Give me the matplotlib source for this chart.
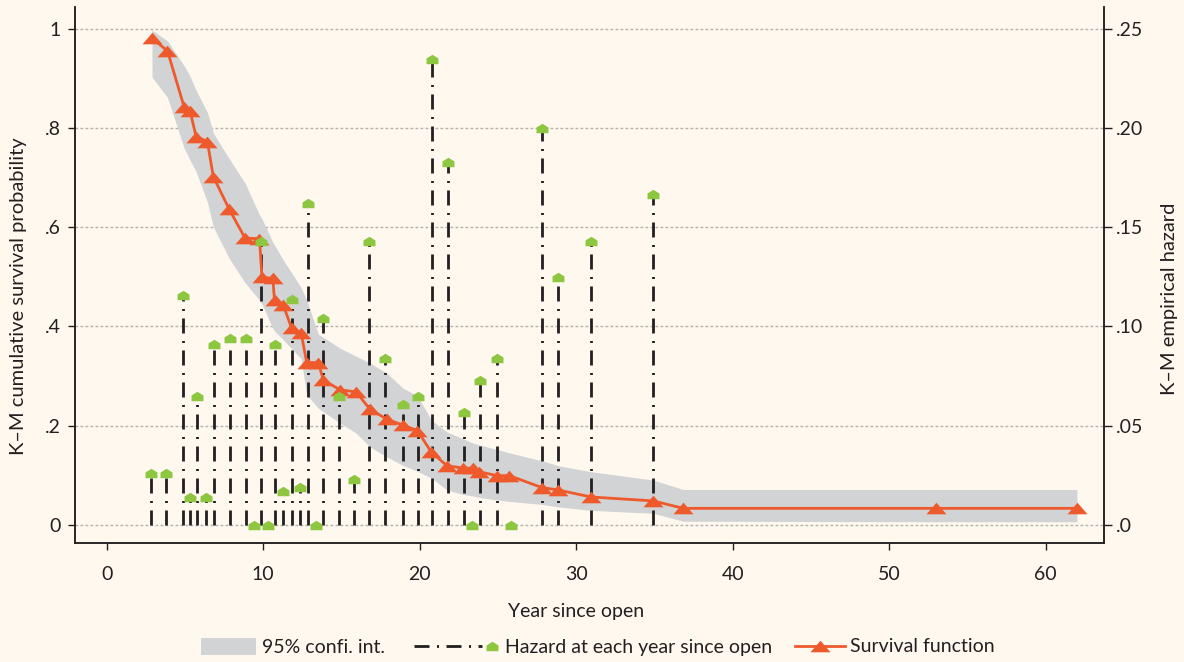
import matplotlib
matplotlib.use("Agg")
import matplotlib.pyplot as plt
import numpy as np
from matplotlib.path import Path
from matplotlib.lines import Line2D
from matplotlib.patches import Patch
from matplotlib.legend_handler import HandlerBase

plt.rcParams['font.family'] = ['Lato', 'DejaVu Sans']

# Kaplan-Meier survival estimate and its 95% confidence band
surv_years = [2.89, 3.88, 4.94, 5.32, 5.71, 6.43, 6.81, 7.83, 8.84, 9.76, 9.92,
              10.61, 10.72, 11.28, 11.82, 12.42, 12.78, 13.52, 13.84, 14.91, 15.93,
              16.82, 17.89, 18.91, 19.85, 20.75, 21.74, 22.79, 23.39, 23.81, 24.92,
              25.73, 27.80, 28.86, 30.93, 34.93, 36.84, 52.99, 62.0]
survival = [0.981, 0.956, 0.843, 0.835, 0.783, 0.773, 0.702, 0.636, 0.578, 0.577, 0.499,
            0.497, 0.453, 0.443, 0.396, 0.387, 0.327, 0.327, 0.292, 0.272, 0.268,
            0.233, 0.213, 0.201, 0.190, 0.146, 0.119, 0.114, 0.114, 0.107, 0.099,
            0.099, 0.075, 0.070, 0.056, 0.048, 0.033, 0.033, 0.033]
ci_upper = [0.998, 0.976, 0.926, 0.905, 0.876, 0.832, 0.790, 0.738, 0.689, 0.625, 0.617,
            0.570, 0.564, 0.534, 0.508, 0.478, 0.453, 0.384, 0.378, 0.356, 0.340,
            0.326, 0.306, 0.276, 0.260, 0.211, 0.187, 0.173, 0.165, 0.161, 0.152,
            0.145, 0.129, 0.119, 0.107, 0.090, 0.071, 0.071, 0.071]
ci_lower = [0.903, 0.862, 0.760, 0.736, 0.712, 0.651, 0.601, 0.537, 0.488, 0.453, 0.445,
            0.396, 0.391, 0.373, 0.355, 0.335, 0.262, 0.235, 0.228, 0.205, 0.185,
            0.157, 0.137, 0.120, 0.108, 0.094, 0.070, 0.061, 0.058, 0.055, 0.050,
            0.047, 0.041, 0.036, 0.029, 0.023, 0.007, 0.006, 0.006]

# Empirical hazard at each year since open
haz_years = [2.83, 3.79, 4.86, 5.32, 5.79, 6.35, 6.88, 7.88, 8.90, 9.41, 9.86, 10.31,
             10.76, 11.28, 11.82, 12.35, 12.84, 13.36, 13.84, 14.82, 15.80, 16.78,
             17.80, 18.91, 19.91, 20.79, 21.83, 22.83, 23.32, 23.83, 24.94, 25.83,
             27.83, 28.86, 30.95, 34.93]
hazard = [0.026, 0.026, 0.116, 0.014, 0.065, 0.014, 0.091, 0.094, 0.094, 0.0, 0.143, 0.0,
          0.091, 0.017, 0.114, 0.019, 0.162, 0.0, 0.104, 0.065, 0.023, 0.143,
          0.084, 0.061, 0.065, 0.235, 0.183, 0.057, 0.0, 0.073, 0.084, 0.0,
          0.200, 0.125, 0.143, 0.167]

x_ticks = [0, 10, 20, 30, 40, 50, 60]
surv_ticks = [0, 0.2, 0.4, 0.6, 0.8, 1.0]
surv_labels = ['0', '.2', '.4', '.6', '.8', '1']
haz_ticks = [0, 0.05, 0.10, 0.15, 0.20, 0.25]
haz_labels = ['.0', '.05', '.10', '.15', '.20', '.25']

BG = '#fef8ef'
INK = '#231f20'
BAND = '#d1d3d4'
ORANGE = '#ee5a2c'
GREEN = '#8dc63f'
STEM_STYLE = (0, (5.4, 2.7, 0.72, 2.7))

house = Path([(-1, -0.79), (1, -0.79), (1, 0.17), (0, 0.79), (-1, 0.17), (-1, -0.79)],
             [Path.MOVETO, Path.LINETO, Path.LINETO, Path.LINETO, Path.LINETO, Path.CLOSEPOLY])
tri = Path([(-1, -0.58), (1, -0.58), (0, 0.58), (-1, -0.58)],
           [Path.MOVETO, Path.LINETO, Path.LINETO, Path.CLOSEPOLY])

fig = plt.figure(figsize=(11.84, 6.62), dpi=100, facecolor=BG)
ax = fig.add_axes([75 / 1184, 1 - 543 / 662, 1029 / 1184, 536 / 662])
ax.set_facecolor(BG)

ylo, yhi = -0.0369, 1.0444
ax.set_xlim(-2.03, 63.73)
ax.set_ylim(ylo, yhi)

# confidence band
ax.fill_between(surv_years, ci_lower, ci_upper, color=BAND, linewidth=0, zorder=1)

# dotted horizontal grid
ax.set_axisbelow(True)
ax.yaxis.grid(True, color='#b4b2ac', linestyle=(0, (2.0, 1.6)), linewidth=1.0)

ax.set_xticks(x_ticks)
ax.set_yticks(surv_ticks)
ax.set_yticklabels(surv_labels)
ax.tick_params(axis='both', colors=INK, labelcolor=INK, labelsize=14, width=1.0, length=5.2)
ax.tick_params(axis='x', pad=11)
ax.tick_params(axis='y', pad=5)
for side in ('left', 'bottom', 'right'):
    ax.spines[side].set_color(INK)
    ax.spines[side].set_linewidth(1.1)
ax.spines['top'].set_visible(False)

ax.set_xlabel('Year since open', fontsize=14, color=INK)
ax.xaxis.set_label_coords((576 - 75) / 1029, -0.112)
ax.set_ylabel('K–M cumulative survival probability', fontsize=14.5, color=INK)
ax.yaxis.set_label_coords((27 - 75) / 1029, 0.46)

# hazard axis on the right
ax2 = ax.twinx()
ax2.set_ylim(ylo / 4, yhi / 4)
ax2.set_yticks(haz_ticks)
ax2.set_yticklabels(haz_labels)
ax2.tick_params(axis='y', colors=INK, labelcolor=INK, labelsize=14, width=1.0, length=5.5, pad=3)
ax2.spines['top'].set_visible(False)
for side in ('left', 'bottom', 'right'):
    ax2.spines[side].set_color(INK)
    ax2.spines[side].set_linewidth(1.1)
ax2.set_ylabel('K–M empirical hazard', fontsize=14.5, color=INK, rotation=90)
ax2.yaxis.set_label_coords((1161 - 75) / 1029, 0.455)

hx = np.array(haz_years)
hy = np.array(hazard)
pos = hy > 0
ax2.vlines(hx[pos], 0, hy[pos], colors=INK, linewidth=2.0, linestyles=[STEM_STYLE], zorder=2)

# survival curve (on the left-hand scale)
surv_line, = ax2.plot(surv_years, survival, color=ORANGE, linewidth=2.0, marker=tri,
                      markersize=14.4, markerfacecolor=ORANGE, markeredgewidth=0,
                      transform=ax.transData, zorder=3)

haz_marks, = ax2.plot(hx, hy, linestyle='none', marker=house, markersize=8.6,
                      markerfacecolor=GREEN, markeredgewidth=0, zorder=4)


class HazardHandler(HandlerBase):
    def create_artists(self, legend, orig_handle, xdescent, ydescent, width, height,
                       fontsize, trans):
        y = height / 2 - ydescent
        x0 = -xdescent
        line = Line2D([x0, x0 + width * 0.81], [y, y], color=INK, linewidth=2.0,
                      linestyle=STEM_STYLE)
        mk = Line2D([x0 + width * 0.93], [y], linestyle='none', marker=house,
                    markersize=8.6, markerfacecolor=GREEN, markeredgewidth=0)
        line.set_transform(trans)
        mk.set_transform(trans)
        return [line, mk]


leg_y = 1 - 647 / 662
common = dict(loc='center left', frameon=False, fontsize=14, borderpad=0,
              borderaxespad=0, labelcolor=INK)
fig.legend(handles=[Patch(facecolor=BAND, edgecolor='none')], labels=['95% confi. int.'],
           bbox_to_anchor=(201 / 1184, leg_y), handlelength=2.83, handleheight=0.93,
           handletextpad=0.3, **common)
fig.legend(handles=[haz_marks], labels=['Hazard at each year since open'],
           handler_map={haz_marks: HazardHandler()},
           bbox_to_anchor=(414 / 1184, leg_y), handlelength=4.32, handletextpad=0.36,
           **common)
fig.legend(handles=[surv_line], labels=['Survival function'], numpoints=1,
           bbox_to_anchor=(795 / 1184, leg_y), handlelength=2.57, handletextpad=0.26,
           **common)

fig.savefig('out.png', dpi=100, facecolor=BG)
